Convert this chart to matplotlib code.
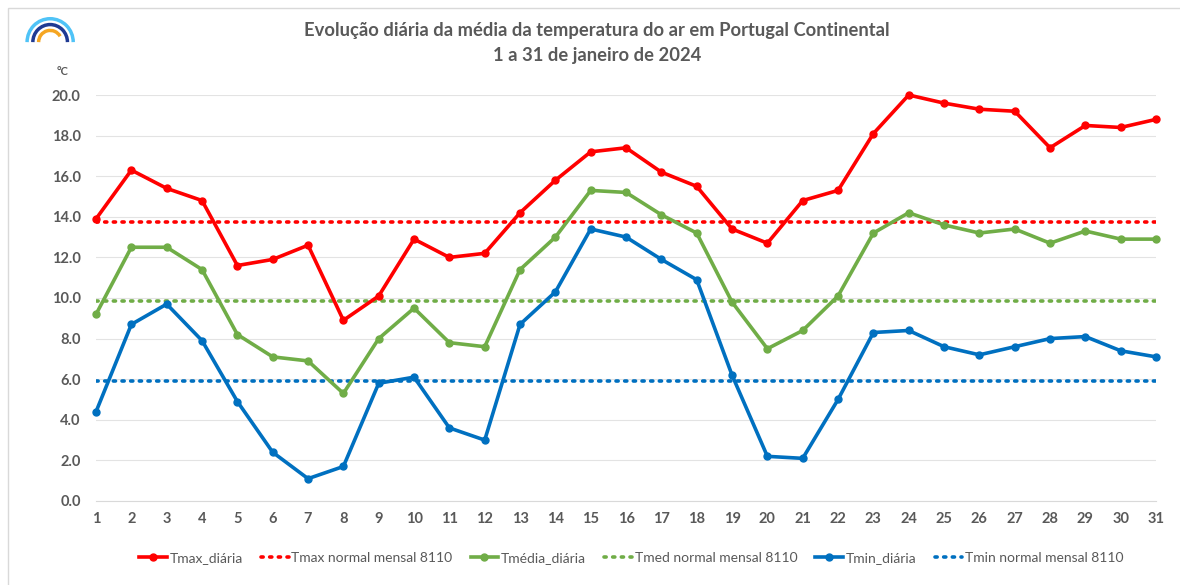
import matplotlib.pyplot as plt
from matplotlib.patches import Arc, Rectangle

plt.rcParams['font.family'] = ['Lato', 'DejaVu Sans']

dias = list(range(1, 32))
tmax = [13.9, 16.3, 15.4, 14.8, 11.6, 11.9, 12.6, 8.9, 10.1, 12.9, 12.0, 12.2, 14.2, 15.8, 17.2, 17.4,
        16.2, 15.5, 13.4, 12.7, 14.8, 15.3, 18.1, 20.0, 19.6, 19.3, 19.2, 17.4, 18.5, 18.4, 18.8]
tmed = [9.2, 12.5, 12.5, 11.4, 8.2, 7.1, 6.9, 5.3, 8.0, 9.5, 7.8, 7.6, 11.4, 13.0, 15.3, 15.2,
        14.1, 13.2, 9.8, 7.5, 8.4, 10.1, 13.2, 14.2, 13.6, 13.2, 13.4, 12.7, 13.3, 12.9, 12.9]
tmin = [4.4, 8.7, 9.7, 7.9, 4.9, 2.4, 1.1, 1.7, 5.8, 6.1, 3.6, 3.0, 8.7, 10.3, 13.4, 13.0,
        11.9, 10.9, 6.2, 2.2, 2.1, 5.0, 8.3, 8.4, 7.6, 7.2, 7.6, 8.0, 8.1, 7.4, 7.1]
tmax_normal = 13.75
tmed_normal = 9.85
tmin_normal = 5.9

vermelho = '#FF0000'
verde = '#70AD47'
azul = '#0070C0'
cinza = '#595959'

fig = plt.figure(figsize=(11.8, 5.85), dpi=100)
ax = fig.add_axes([0.0814, 0.1436, 0.8983, 0.694])

series = [
    ('Tmax_diária', tmax, vermelho, 'Tmax normal mensal 8110', tmax_normal),
    ('Tmédia_diária', tmed, verde, 'Tmed normal mensal 8110', tmed_normal),
    ('Tmin_diária', tmin, azul, 'Tmin normal mensal 8110', tmin_normal),
]
for nome, vals, cor, nome_n, normal in series:
    ax.plot(dias, vals, color=cor, lw=2.6, marker='o', ms=5, label=nome, zorder=3, clip_on=False)
    ax.plot(dias, [normal] * len(dias), color=cor, lw=2.6, ls=(0, (0.6, 1.8)),
            dash_capstyle='round', label=nome_n, zorder=2)

ax.set_xlim(1, 31)
ax.set_ylim(0, 20)
ax.set_yticks(range(0, 21, 2))
ax.set_yticklabels([f'{v:.1f}' for v in range(0, 21, 2)])
ax.set_xticks(dias)
ax.grid(axis='y', color='#E3E3E3', lw=0.8)
ax.set_axisbelow(True)
for s in ['top', 'right', 'left']:
    ax.spines[s].set_visible(False)
ax.spines['bottom'].set_color('#D9D9D9')
ax.tick_params(length=0, colors=cinza, labelsize=10.5)
ax.tick_params(axis='y', pad=11)
ax.tick_params(axis='x', pad=8)
for lb in ax.get_xticklabels() + ax.get_yticklabels():
    lb.set_fontweight('bold')

fig.text(0.506, 0.948, 'Evolução diária da média da temperatura do ar em Portugal Continental',
         ha='center', va='center', fontsize=13.2, fontweight='bold', color=cinza)
fig.text(0.506, 0.905, '1 a 31 de janeiro de 2024',
         ha='center', va='center', fontsize=13.2, fontweight='bold', color=cinza)
fig.text(0.053, 0.877, '°C', ha='center', va='center', fontsize=8, fontweight='bold', color=cinza)

leg = fig.legend(loc='center', bbox_to_anchor=(0.535, 0.046), ncol=6, frameon=False,
                 fontsize=10, handlelength=2.0, columnspacing=1.3, handletextpad=0.2)
for t in leg.get_texts():
    t.set_color(cinza)

# moldura e logotipo
fig.add_artist(Rectangle((0.007, -0.01), 1.0, 0.996, transform=fig.transFigure,
                         fill=False, ec='#D9D9D9', lw=1))
logo_ax = fig.add_axes([0.021, 0.926, 0.043, 0.046])
logo_ax.set_xlim(-1.1, 1.1)
logo_ax.set_ylim(-0.05, 1.1)
logo_ax.axis('off')
for r, c in [(1.0, '#4FC3F7'), (0.75, '#1F3A93'), (0.5, '#F5A623')]:
    logo_ax.add_patch(Arc((0, 0), 2 * r, 2 * r, theta1=0 if r > 0.6 else 30, theta2=180,
                          color=c, lw=2.5))

fig.savefig('out.png', dpi=100)
